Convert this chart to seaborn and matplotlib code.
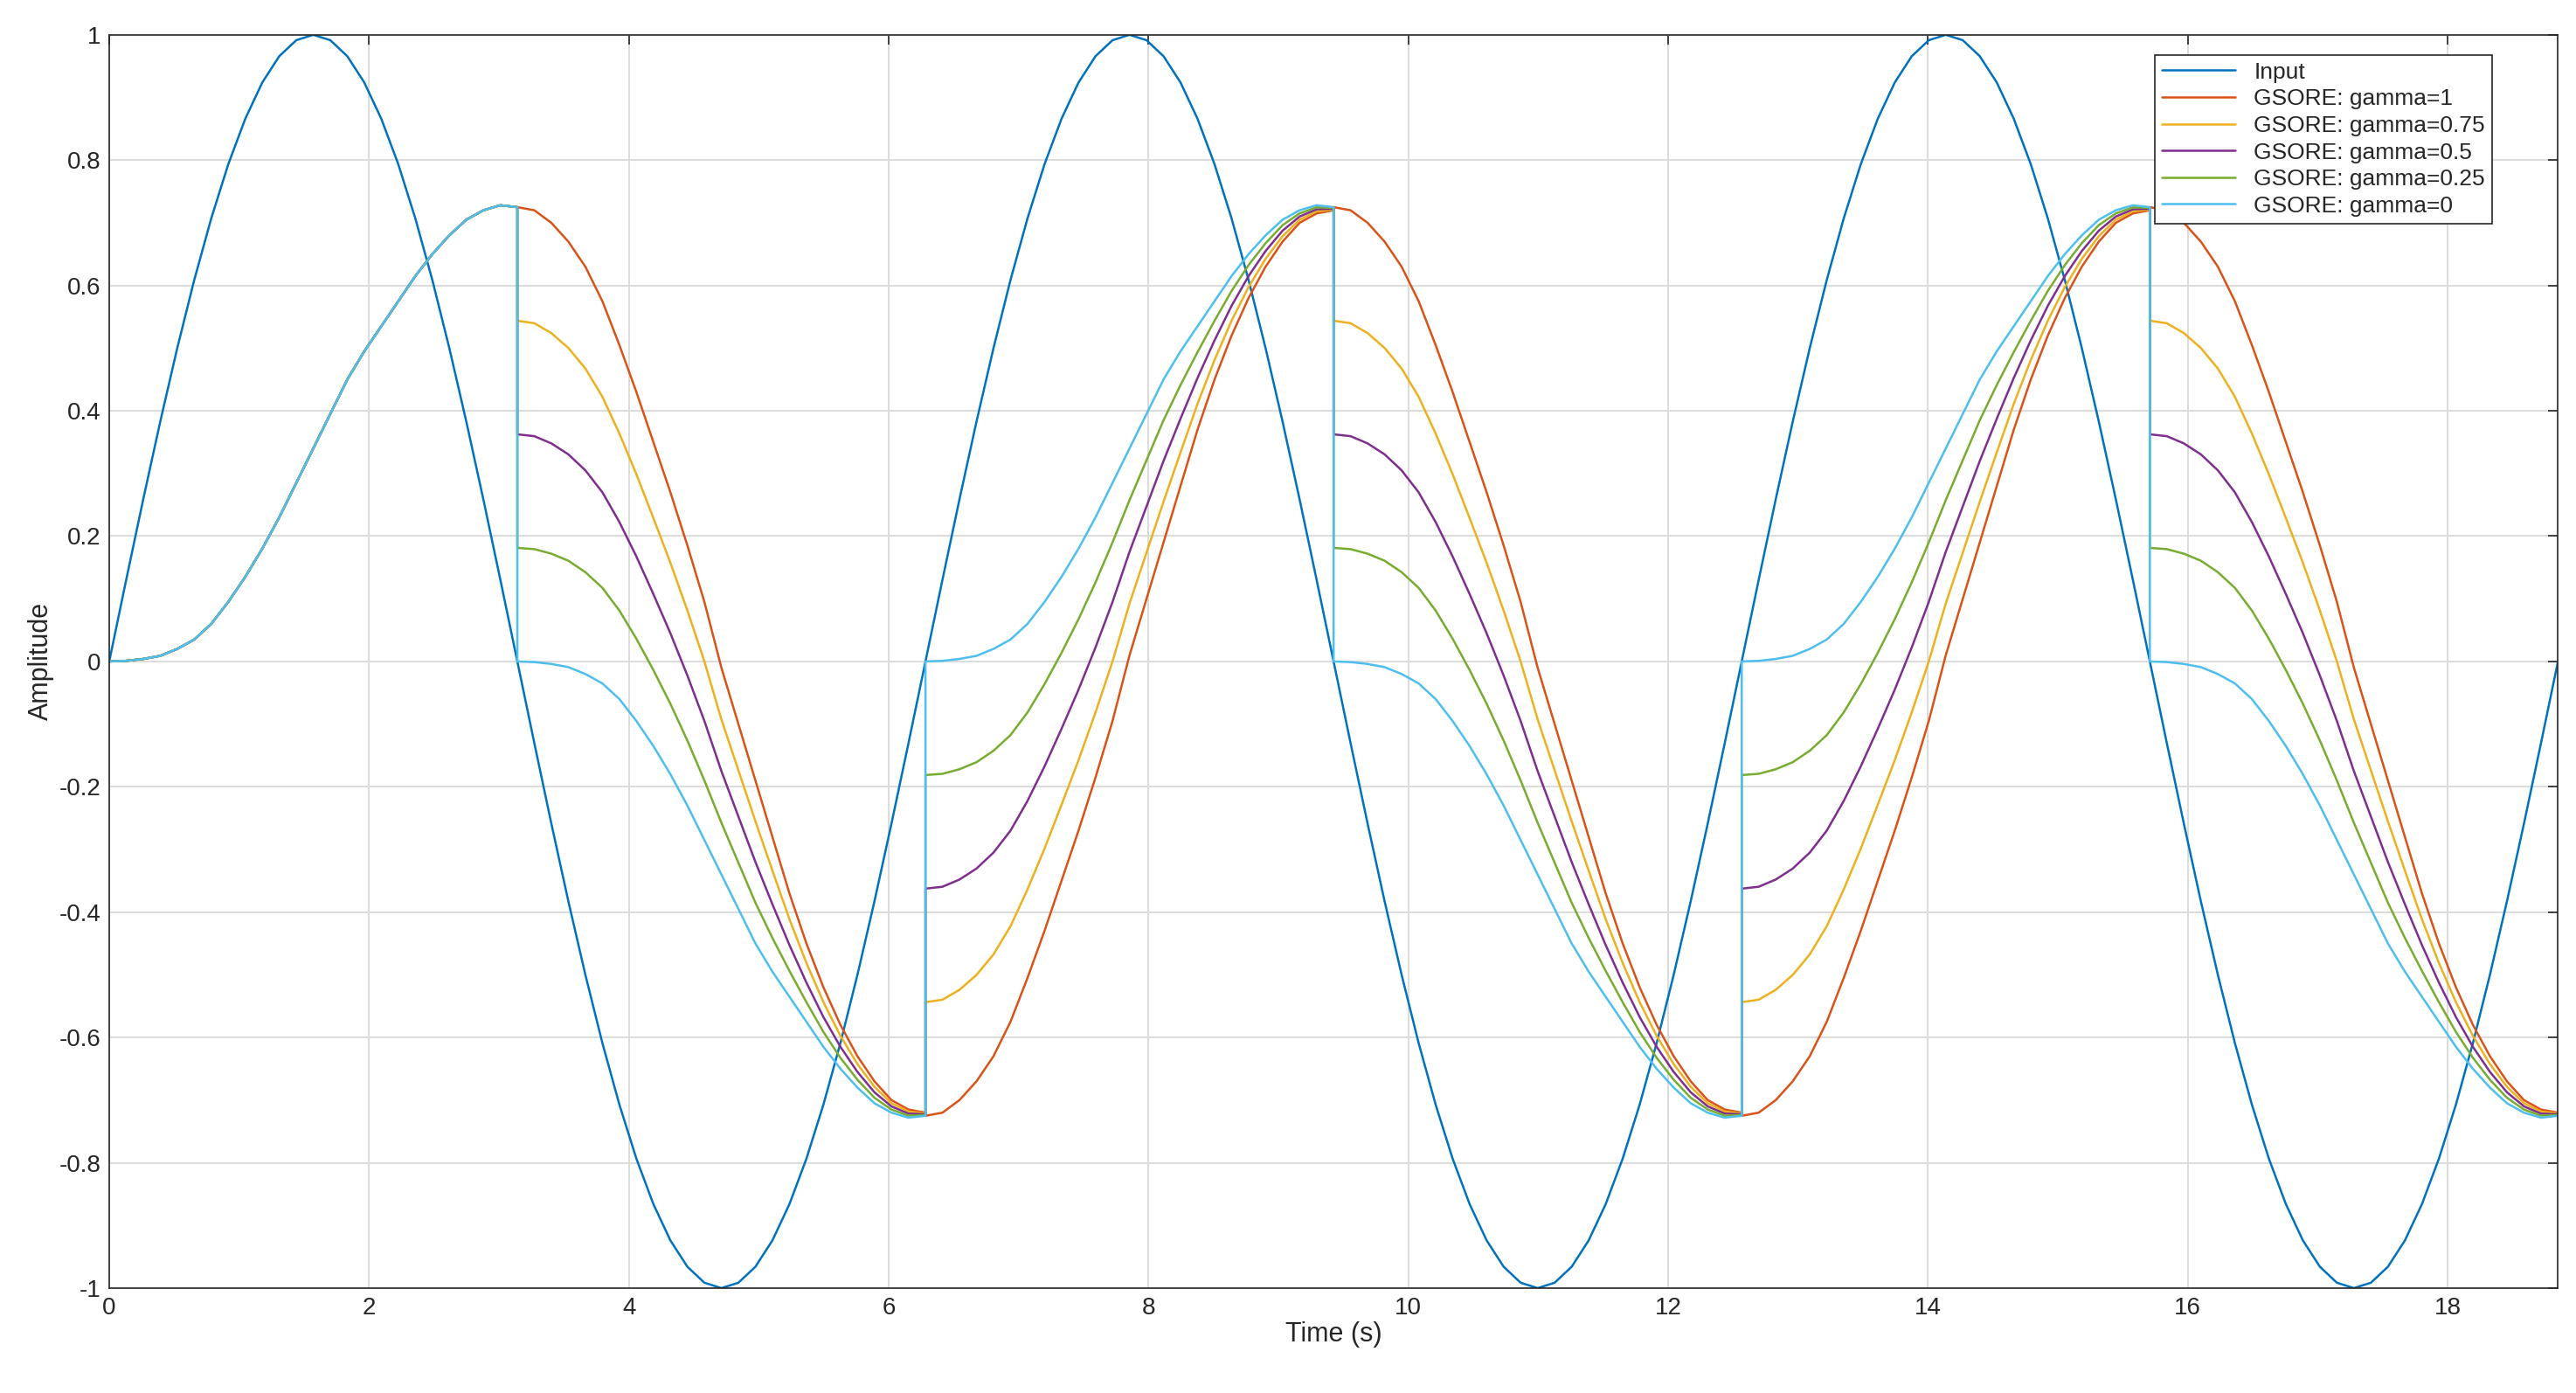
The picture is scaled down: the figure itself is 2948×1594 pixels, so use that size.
import numpy as np
import pandas as pd
import matplotlib
matplotlib.use("Agg")
import matplotlib.pyplot as plt
import seaborn as sns

# half period samples, step pi/24
SIN_HALF = [0.0, 0.1305, 0.2588, 0.3827, 0.5, 0.6088, 0.7071, 0.7934, 0.866, 0.9239,
            0.9659, 0.9914, 1.0, 0.9914, 0.9659, 0.9239, 0.866, 0.7934, 0.7071, 0.6088,
            0.5, 0.3827, 0.2588, 0.1305, 0.0]
# gamma=0 response over one half period
H0 = [0.0, 0.001, 0.004, 0.009, 0.02, 0.035, 0.06, 0.095, 0.135, 0.18, 0.23, 0.285,
      0.34, 0.395, 0.45, 0.495, 0.535, 0.575, 0.615, 0.65, 0.68, 0.705, 0.72, 0.728, 0.725]
# gamma=1 response over one half period after reset
H1 = [0.725, 0.72, 0.70, 0.67, 0.63, 0.575, 0.505, 0.43, 0.35, 0.27, 0.185, 0.095,
      -0.01, -0.10, -0.19, -0.28, -0.37, -0.45, -0.52, -0.58, -0.63, -0.67, -0.70, -0.715, -0.72]
GAMMAS = [1, 0.75, 0.5, 0.25, 0]
N_HALF = 6

COLORS = ["#0072BD", "#D95319", "#EDB120", "#7E2F8E", "#77AC30", "#4DBEEE"]

sin_half = np.array(SIN_HALF)
h0 = np.array(H0)
h1 = np.array(H1)
tau = np.linspace(0, np.pi, len(SIN_HALF))

rows = []
for s in range(N_HALF):
    t = s * np.pi + tau
    sgn = 1 if s % 2 == 0 else -1
    for ti, v in zip(t, sgn * sin_half):
        rows.append(("Input", ti, v))
    for g in GAMMAS:
        if s == 0:
            y = h0
        else:
            y = -sgn * (-(1 - g) * h0 + g * h1)
        for ti, v in zip(t, y):
            rows.append((f"GSORE: gamma={g}", ti, v))
df = pd.DataFrame(rows, columns=["series", "time", "amp"])

sns.set_style("white")
plt.rcParams["font.family"] = ["Liberation Sans", "DejaVu Sans"]

fig = plt.figure(figsize=(14.74, 7.97), dpi=200)
ax = fig.add_axes([0.0424, 0.0753, 0.9506, 0.8997])

labels = ["Input"] + [f"GSORE: gamma={g}" for g in GAMMAS]
for lab, col in zip(labels, COLORS):
    d = df[df["series"] == lab]
    sns.lineplot(x=d["time"].values, y=d["amp"].values, ax=ax, color=col, lw=0.9,
                 sort=False, estimator=None, label=lab)

ax.set_xlim(0, 6 * np.pi)
ax.set_ylim(-1, 1)
ax.set_xticks(np.arange(0, 19, 2))
yt = np.round(np.arange(-1, 1.01, 0.2), 1)
ax.set_yticks(yt)
ax.set_yticklabels(["0" if abs(v) < 1e-9 else f"{v:g}" for v in yt])
ax.grid(True, color="#dcdcdc", lw=0.7)
ax.tick_params(direction="in", top=True, right=True, labelsize=10, length=4, width=0.6)
for sp in ax.spines.values():
    sp.set_color("#262626")
    sp.set_linewidth(0.6)
ax.set_xlabel("Time (s)", fontsize=11, labelpad=1)
ax.set_ylabel("Amplitude", fontsize=11, labelpad=2)

leg = ax.legend(loc="upper right", bbox_to_anchor=(0.973, 0.984), fontsize=9.5,
                frameon=True, fancybox=False, edgecolor="#262626", framealpha=1,
                handlelength=3.2, borderaxespad=0, labelspacing=0.25, borderpad=0.3)
leg.get_frame().set_linewidth(0.6)

fig.savefig("out.png", dpi=200)
